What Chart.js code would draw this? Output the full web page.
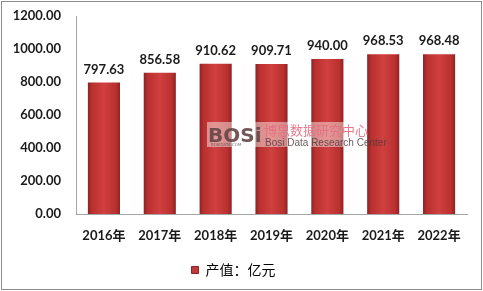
<!DOCTYPE html>
<html>
<head>
<meta charset="utf-8">
<script src="https://cdn.jsdelivr.net/npm/chart.js@4/dist/chart.umd.min.js"></script>
<style>
  html, body { margin: 0; padding: 0; background: #fff; }
  #box { position: relative; width: 483px; height: 291px; }
  #frame { position: absolute; left: 1px; top: 1px; width: 479px; height: 287px; border: 1px solid #8c8c8c; pointer-events: none; }
</style>
</head>
<body>
<div id="box">
  <canvas id="chart" width="483" height="291"></canvas>
  <div id="frame"></div>
</div>
<script>
var categories = ["2016年", "2017年", "2018年", "2019年", "2020年", "2021年", "2022年"];
var values = [797.63, 856.58, 910.62, 909.71, 940.00, 968.53, 968.48];
var yTicks = [0, 200, 400, 600, 800, 1000, 1200];
var seriesName = "产值：亿元";

var FONT = "Lato, 'Noto Sans CJK SC', sans-serif";

function barFill(context) {
  var chart = context.chart;
  var x = chart.scales && chart.scales.x ? chart.scales.x.getPixelForValue(context.dataIndex) : NaN;
  if (!isFinite(x)) return "#c8383a";
  var half = 16;
  var g = chart.ctx.createLinearGradient(x - half, 0, x + half, 0);
  g.addColorStop(0, "#8e2224");
  g.addColorStop(0.12, "#b8302f");
  g.addColorStop(0.5, "#d0403f");
  g.addColorStop(0.88, "#b8302f");
  g.addColorStop(1, "#8e2224");
  return g;
}

var valueLabels = {
  id: "valueLabels",
  afterDatasetsDraw: function (chart) {
    var ctx = chart.ctx;
    var meta = chart.getDatasetMeta(0);
    ctx.save();
    ctx.font = "bold 13px " + FONT;
    ctx.fillStyle = "#1a1a1a";
    ctx.textAlign = "center";
    ctx.textBaseline = "middle";
    for (var i = 0; i < meta.data.length; i++) {
      var bar = meta.data[i];
      ctx.fillText(values[i].toFixed(2), bar.x, bar.y - 13);
    }
    ctx.restore();
  }
};

// faint site watermark over the middle bars
var watermark = {
  id: "watermark",
  afterDatasetsDraw: function (chart) {
    var ctx = chart.ctx;
    ctx.save();
    ctx.fillStyle = "rgba(255,255,255,0.45)";
    ctx.fillRect(207, 122, 156, 25);
    ctx.textBaseline = "alphabetic";
    ctx.textAlign = "left";
    ctx.font = "bold 20px 'DejaVu Sans', sans-serif";
    ctx.fillStyle = "rgba(100,70,70,0.9)";
    ctx.fillText("BOSi", 208, 142);
    ctx.font = "4px 'DejaVu Sans', sans-serif";
    ctx.fillStyle = "rgba(90,90,90,0.8)";
    ctx.fillText("BOSIDATA.COM", 211, 146);
    ctx.font = "13px 'Noto Sans CJK SC', sans-serif";
    ctx.fillStyle = "rgba(230,110,130,0.9)";
    ctx.fillText("博思数据研究中心", 264, 135);
    ctx.font = "10px 'Liberation Sans Narrow', 'Liberation Sans', sans-serif";
    ctx.fillStyle = "rgba(80,60,60,0.85)";
    ctx.fillText("Bosi Data Research Center", 265, 146);
    ctx.restore();
  }
};

new Chart(document.getElementById("chart"), {
  type: "bar",
  data: {
    labels: categories,
    datasets: [{
      label: seriesName,
      data: values,
      backgroundColor: barFill,
      borderWidth: 0,
      barPercentage: 0.575,
      categoryPercentage: 1
    }]
  },
  options: {
    responsive: false,
    animation: false,
    devicePixelRatio: 1,
    layout: { padding: { top: 16, right: 16, left: 0, bottom: 4 } },
    plugins: {
      legend: {
        position: "bottom",
        labels: {
          font: { size: 14, family: FONT },
          color: "#1a1a1a",
          boxWidth: 7,
          boxHeight: 7,
          padding: 8,
          generateLabels: function () {
            return [{ text: seriesName, fillStyle: "#c0393b", strokeStyle: "#8e2224", lineWidth: 1, datasetIndex: 0 }];
          }
        }
      },
      tooltip: { enabled: false }
    },
    scales: {
      x: {
        grid: { display: false, drawTicks: false },
        border: { display: true, color: "#a6a6a6", width: 1 },
        ticks: { font: { size: 13, weight: "bold", family: FONT }, color: "#1a1a1a", padding: 14 },
        afterFit: function (s) { s.height = 41; }
      },
      y: {
        min: 0,
        max: 1200,
        afterBuildTicks: function (s) {
          s.ticks = yTicks.map(function (v) { return { value: v }; });
        },
        grid: { display: false, drawTicks: false },
        border: { display: true, color: "#a6a6a6", width: 1 },
        ticks: {
          font: { size: 13, weight: "bold", family: FONT },
          color: "#1a1a1a",
          padding: 15,
          callback: function (v) { return Number(v).toFixed(2); }
        },
        afterFit: function (s) { s.width = 76; s.paddingTop = 0; s.paddingBottom = 0; }
      }
    }
  },
  plugins: [valueLabels, watermark]
});
</script>
</body>
</html>
